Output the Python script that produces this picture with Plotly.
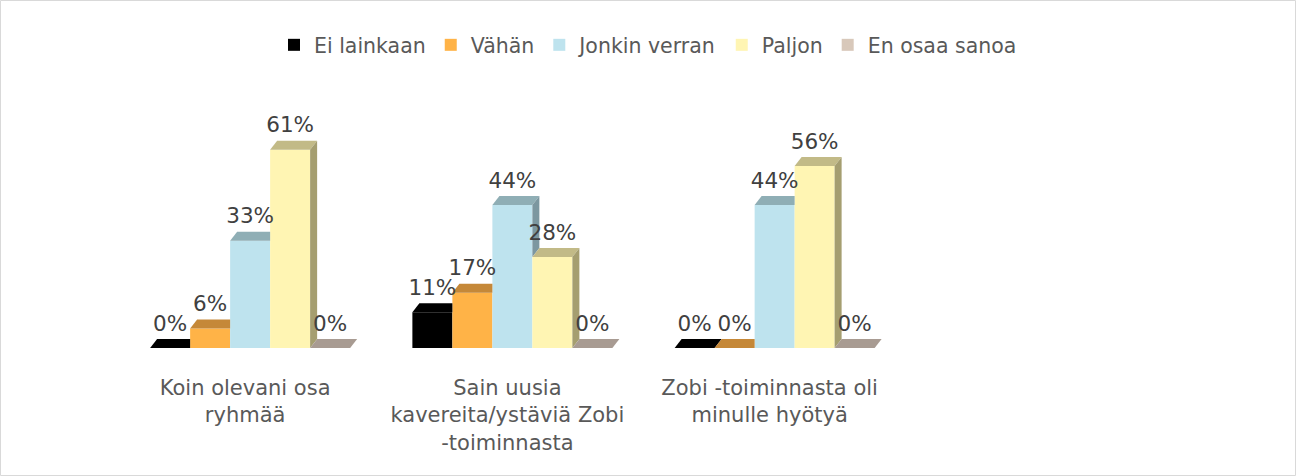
import plotly.graph_objects as go

# ---- data ----
categories = ["Koin olevani osa<br>ryhmää",
              "Sain uusia<br>kavereita/ystäviä Zobi<br>-toiminnasta",
              "Zobi -toiminnasta oli<br>minulle hyötyä",
              ""]
series_names = ["Ei lainkaan", "Vähän", "Jonkin verran", "Paljon", "En osaa sanoa"]
ei_lainkaan = [0, 11, 0]
vahan = [6, 17, 0]
jonkin_verran = [33, 44, 44]
paljon = [61, 28, 56]
en_osaa_sanoa = [0, 0, 0]
series_values = [ei_lainkaan, vahan, jonkin_verran, paljon, en_osaa_sanoa]

# ---- style ----
front_colors = ["#000000", "#FFB347", "#BEE3EE", "#FFF5B3", "#D8C8BA"]
top_colors = ["#000000", "#C58838", "#8FAEB5", "#C2BA87", "#A89B92"]
side_colors = ["#000000", "#A8742E", "#7C97A0", "#A59E70", "#8E8178"]
FONT = "DejaVu Sans, sans-serif"

W, H = 1296, 476
ML, MR, MT, MB = 119, 128, 88, 128
plot_w = W - ML - MR
plot_h = H - MT - MB
ymax = 80.0
n_cat = len(categories)
px_per_cat = plot_w / n_cat
px_per_val = plot_h / ymax

bar_w = 40 / px_per_cat          # bar width in category units
dx = 7 / px_per_cat              # 3D depth offset (x)
dy = 9 / px_per_val              # 3D depth offset (y)
label_pad = 3 / px_per_val
tick_shift = -5 / px_per_cat
n_ser = len(series_names)

fig = go.Figure()

def xs_for(j, ncat):
    return [c + (j - (n_ser - 1) / 2) * bar_w for c in range(ncat)]

# front faces
for j, (name, vals) in enumerate(zip(series_names, series_values)):
    fig.add_trace(go.Bar(
        x=xs_for(j, len(vals)), y=vals, width=bar_w, name=name,
        marker=dict(color=front_colors[j], line=dict(width=0)),
        hoverinfo="skip", showlegend=True))

# tops and sides (3D effect), drawn in series order
for j, vals in enumerate(series_values):
    xs = xs_for(j, len(vals))
    for c, v in enumerate(vals):
        x0 = xs[c] - bar_w / 2
        x1 = xs[c] + bar_w / 2
        nxt = series_values[j + 1][c] if j + 1 < n_ser else 0
        if nxt > v:
            tx = [x0, x1, x1, x0 + dx, x0]
        else:
            tx = [x0, x1, x1 + dx, x0 + dx, x0]
        ty = [v, v, v + dy, v + dy, v]
        fig.add_trace(go.Scatter(x=tx, y=ty, mode="lines", fill="toself",
                                 fillcolor=top_colors[j], line=dict(width=0),
                                 hoverinfo="skip", showlegend=False))
        if v > nxt:
            sx = [x1, x1 + dx, x1 + dx, x1, x1]
            sy = [nxt, nxt + dy, v + dy, v, nxt]
            fig.add_trace(go.Scatter(x=sx, y=sy, mode="lines", fill="toself",
                                     fillcolor=side_colors[j], line=dict(width=0),
                                     hoverinfo="skip", showlegend=False))

# data labels
for j, vals in enumerate(series_values):
    xs = xs_for(j, len(vals))
    fig.add_trace(go.Scatter(
        x=xs, y=[v + dy + label_pad for v in vals],
        mode="text", text=[f"{v}%" for v in vals], textposition="top center",
        textfont=dict(family=FONT, size=21.5, color="#404040"),
        hoverinfo="skip", showlegend=False))

fig.update_layout(
    width=W, height=H,
    margin=dict(l=ML, r=MR, t=MT, b=MB),
    paper_bgcolor="white", plot_bgcolor="white",
    barmode="overlay",
    font=dict(family=FONT, size=20.5, color="#595959"),
    xaxis=dict(range=[-0.5, n_cat - 0.5], tickmode="array",
               tickvals=[c + tick_shift for c in range(n_cat)], ticktext=categories,
               showgrid=False, zeroline=False, showline=False,
               ticks="", ticklabelstandoff=25,
               tickfont=dict(family=FONT, size=21, color="#595959")),
    yaxis=dict(range=[0, ymax], showgrid=False, zeroline=False,
               showline=False, showticklabels=False, ticks=""),
    legend=dict(orientation="h", xref="container", yref="container",
                x=0.5, xanchor="center", y=1 - 25 / H, yanchor="top",
                font=dict(family=FONT, size=20.5, color="#595959"),
                traceorder="normal"),
    shapes=[dict(type="rect", xref="paper", yref="paper",
                 x0=-(ML - 0.5) / plot_w, x1=1 + (MR - 0.5) / plot_w,
                 y0=-(MB - 0.5) / plot_h, y1=1 + (MT - 0.5) / plot_h,
                 line=dict(color="#D9D9D9", width=1), layer="below")],
)

fig.write_html("out.html", config={"displayModeBar": False},
               post_script="document.body.style.margin='0';")
